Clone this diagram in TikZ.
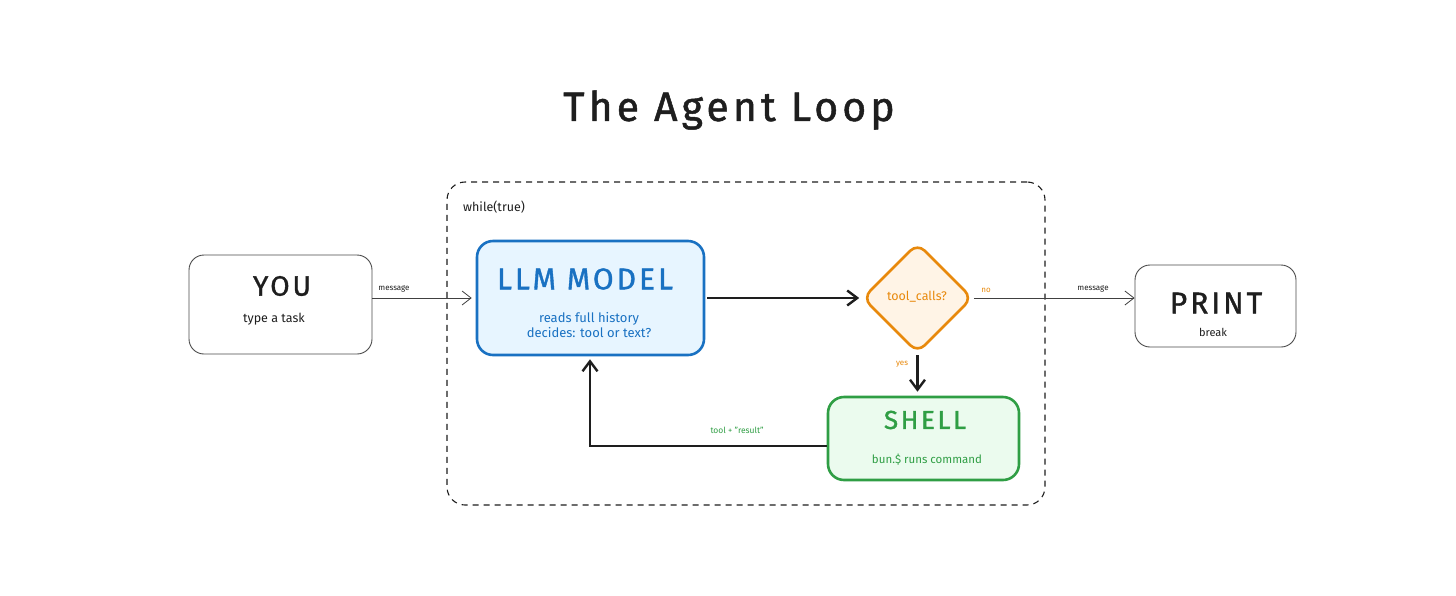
\documentclass[tikz,border=0pt]{standalone}
\usepackage{fontspec}
\setmainfont{Fira Sans}
\newfontfamily\headfont[LetterSpace=10,FakeBold=1.2]{Fira Sans}
\usetikzlibrary{arrows.meta,shapes.geometric}
\definecolor{bluestroke}{HTML}{1971C2}
\definecolor{bluefill}{HTML}{E7F5FF}
\definecolor{orstroke}{HTML}{E8890C}
\definecolor{orfill}{HTML}{FFF4E6}
\definecolor{grstroke}{HTML}{2F9E44}
\definecolor{grfill}{HTML}{EBFBEE}
\definecolor{ink}{HTML}{1E1E1E}
\tikzset{
  plainbox/.style={draw=ink!80, line width=0.9pt, rounded corners=15pt, fill=white, inner sep=0pt},
  llmbox/.style={draw=bluestroke, fill=bluefill, line width=2.6pt, rounded corners=16pt, inner sep=0pt},
  shellbox/.style={draw=grstroke, fill=grfill, line width=2.6pt, rounded corners=16pt, inner sep=0pt},
  decbox/.style={diamond, draw=orstroke, fill=orfill, line width=2.6pt, rounded corners=10pt, inner sep=0pt, minimum width=110pt, minimum height=110pt},
  loopbox/.style={draw=ink, line width=1.1pt, dash pattern=on 6pt off 5pt, rounded corners=18pt, inner sep=0pt, minimum width=598pt, minimum height=323pt},
  thinarrow/.style={draw=ink!85, line width=0.8pt, -{Straight Barb[length=9pt,width=14pt,line width=0.8pt]}},
  thickarrow/.style={draw=ink, line width=2.4pt, -{Straight Barb[length=10pt,width=15pt,line width=2.4pt]}},
  headtext/.style={inner sep=0pt},
  smalltext/.style={font=\fontsize{12.5}{16}\selectfont, inner sep=0pt, align=center},
  tinytext/.style={font=\fontsize{8}{9}\selectfont, inner sep=0pt},
}
\begin{document}
\begin{tikzpicture}[x=1pt,y=-1pt]
\useasboundingbox[fill=white] (0,0) rectangle (1456,595);

% title
\node[headtext, font=\headfont\fontsize{41}{44}\selectfont, text=ink] (title) at (729,110) {The Agent Loop};

% container
\node[loopbox] (loop) at (746,343.5) {};
\node[smalltext, text=ink, anchor=west] (while) at (463,207) {while(true)};

% YOU
\node[plainbox, minimum width=183pt, minimum height=99pt] (you) at (280.5,304.5) {};
\node[headtext, font=\headfont\fontsize{28}{30}\selectfont, text=ink] (youT) at (282,286) {YOU};
\node[smalltext, text=ink] (youS) at (274,319) {type a task};

% LLM
\node[llmbox, minimum width=227pt, minimum height=114pt] (llm) at (590.5,298) {};
\node[headtext, font=\headfont\fontsize{30}{32}\selectfont, text=bluestroke] (llmT) at (585,279) {LLM MODEL};
\node[smalltext, text=bluestroke, font=\fontsize{13}{15.5}\selectfont] (llmS) at (589,325) {reads full history\\decides: tool or text?};

% decision
\node[decbox] (dec) at (917.5,298) {};
\node[smalltext, text=orstroke] (decT) at (917,297) {tool\_calls?};

% PRINT
\node[plainbox, minimum width=161pt, minimum height=82pt] (print) at (1215.5,306) {};
\node[headtext, font=\headfont\fontsize{30}{32}\selectfont, text=ink] (printT) at (1216,303) {PRINT};
\node[smalltext, text=ink, font=\fontsize{11}{13}\selectfont] (printS) at (1213,332) {break};

% SHELL
\node[shellbox, minimum width=191pt, minimum height=83pt] (shell) at (923.5,438.5) {};
\node[headtext, font=\headfont\fontsize{26}{28}\selectfont, text=grstroke] (shellT) at (925,420) {SHELL};
\node[smalltext, text=grstroke, font=\fontsize{11.5}{13}\selectfont] (shellS) at (927,460) {bun.\$ runs command};

% connectors
\draw[thinarrow, shorten >=4pt] (llm.west -| you.east) -- (llm.west);
\node[tinytext, text=ink] (msg1) at (394,289) {message};

\draw[thickarrow, shorten <=2pt, shorten >=2pt] (llm.east) -- (dec.west);

\draw[thinarrow] (dec.east) -- (print.west |- dec.east);
\node[tinytext, text=orstroke] (no) at (986,290) {no};
\node[tinytext, text=ink] (msg2) at (1093,289) {message};

\draw[thickarrow, shorten <=1pt, shorten >=4pt] (dec.south) -- (dec.south |- shell.north);
\node[tinytext, text=orstroke] (yes) at (902,364) {yes};

\coordinate (ret) at (590,446);
\draw[thickarrow, shorten >=3pt] (shell.west |- ret) -- (ret) -- (llm.south -| ret);
\node[tinytext, text=grstroke, font=\fontsize{8.5}{10}\selectfont] (retL) at (737,430) {tool + "result"};
\end{tikzpicture}
\end{document}
